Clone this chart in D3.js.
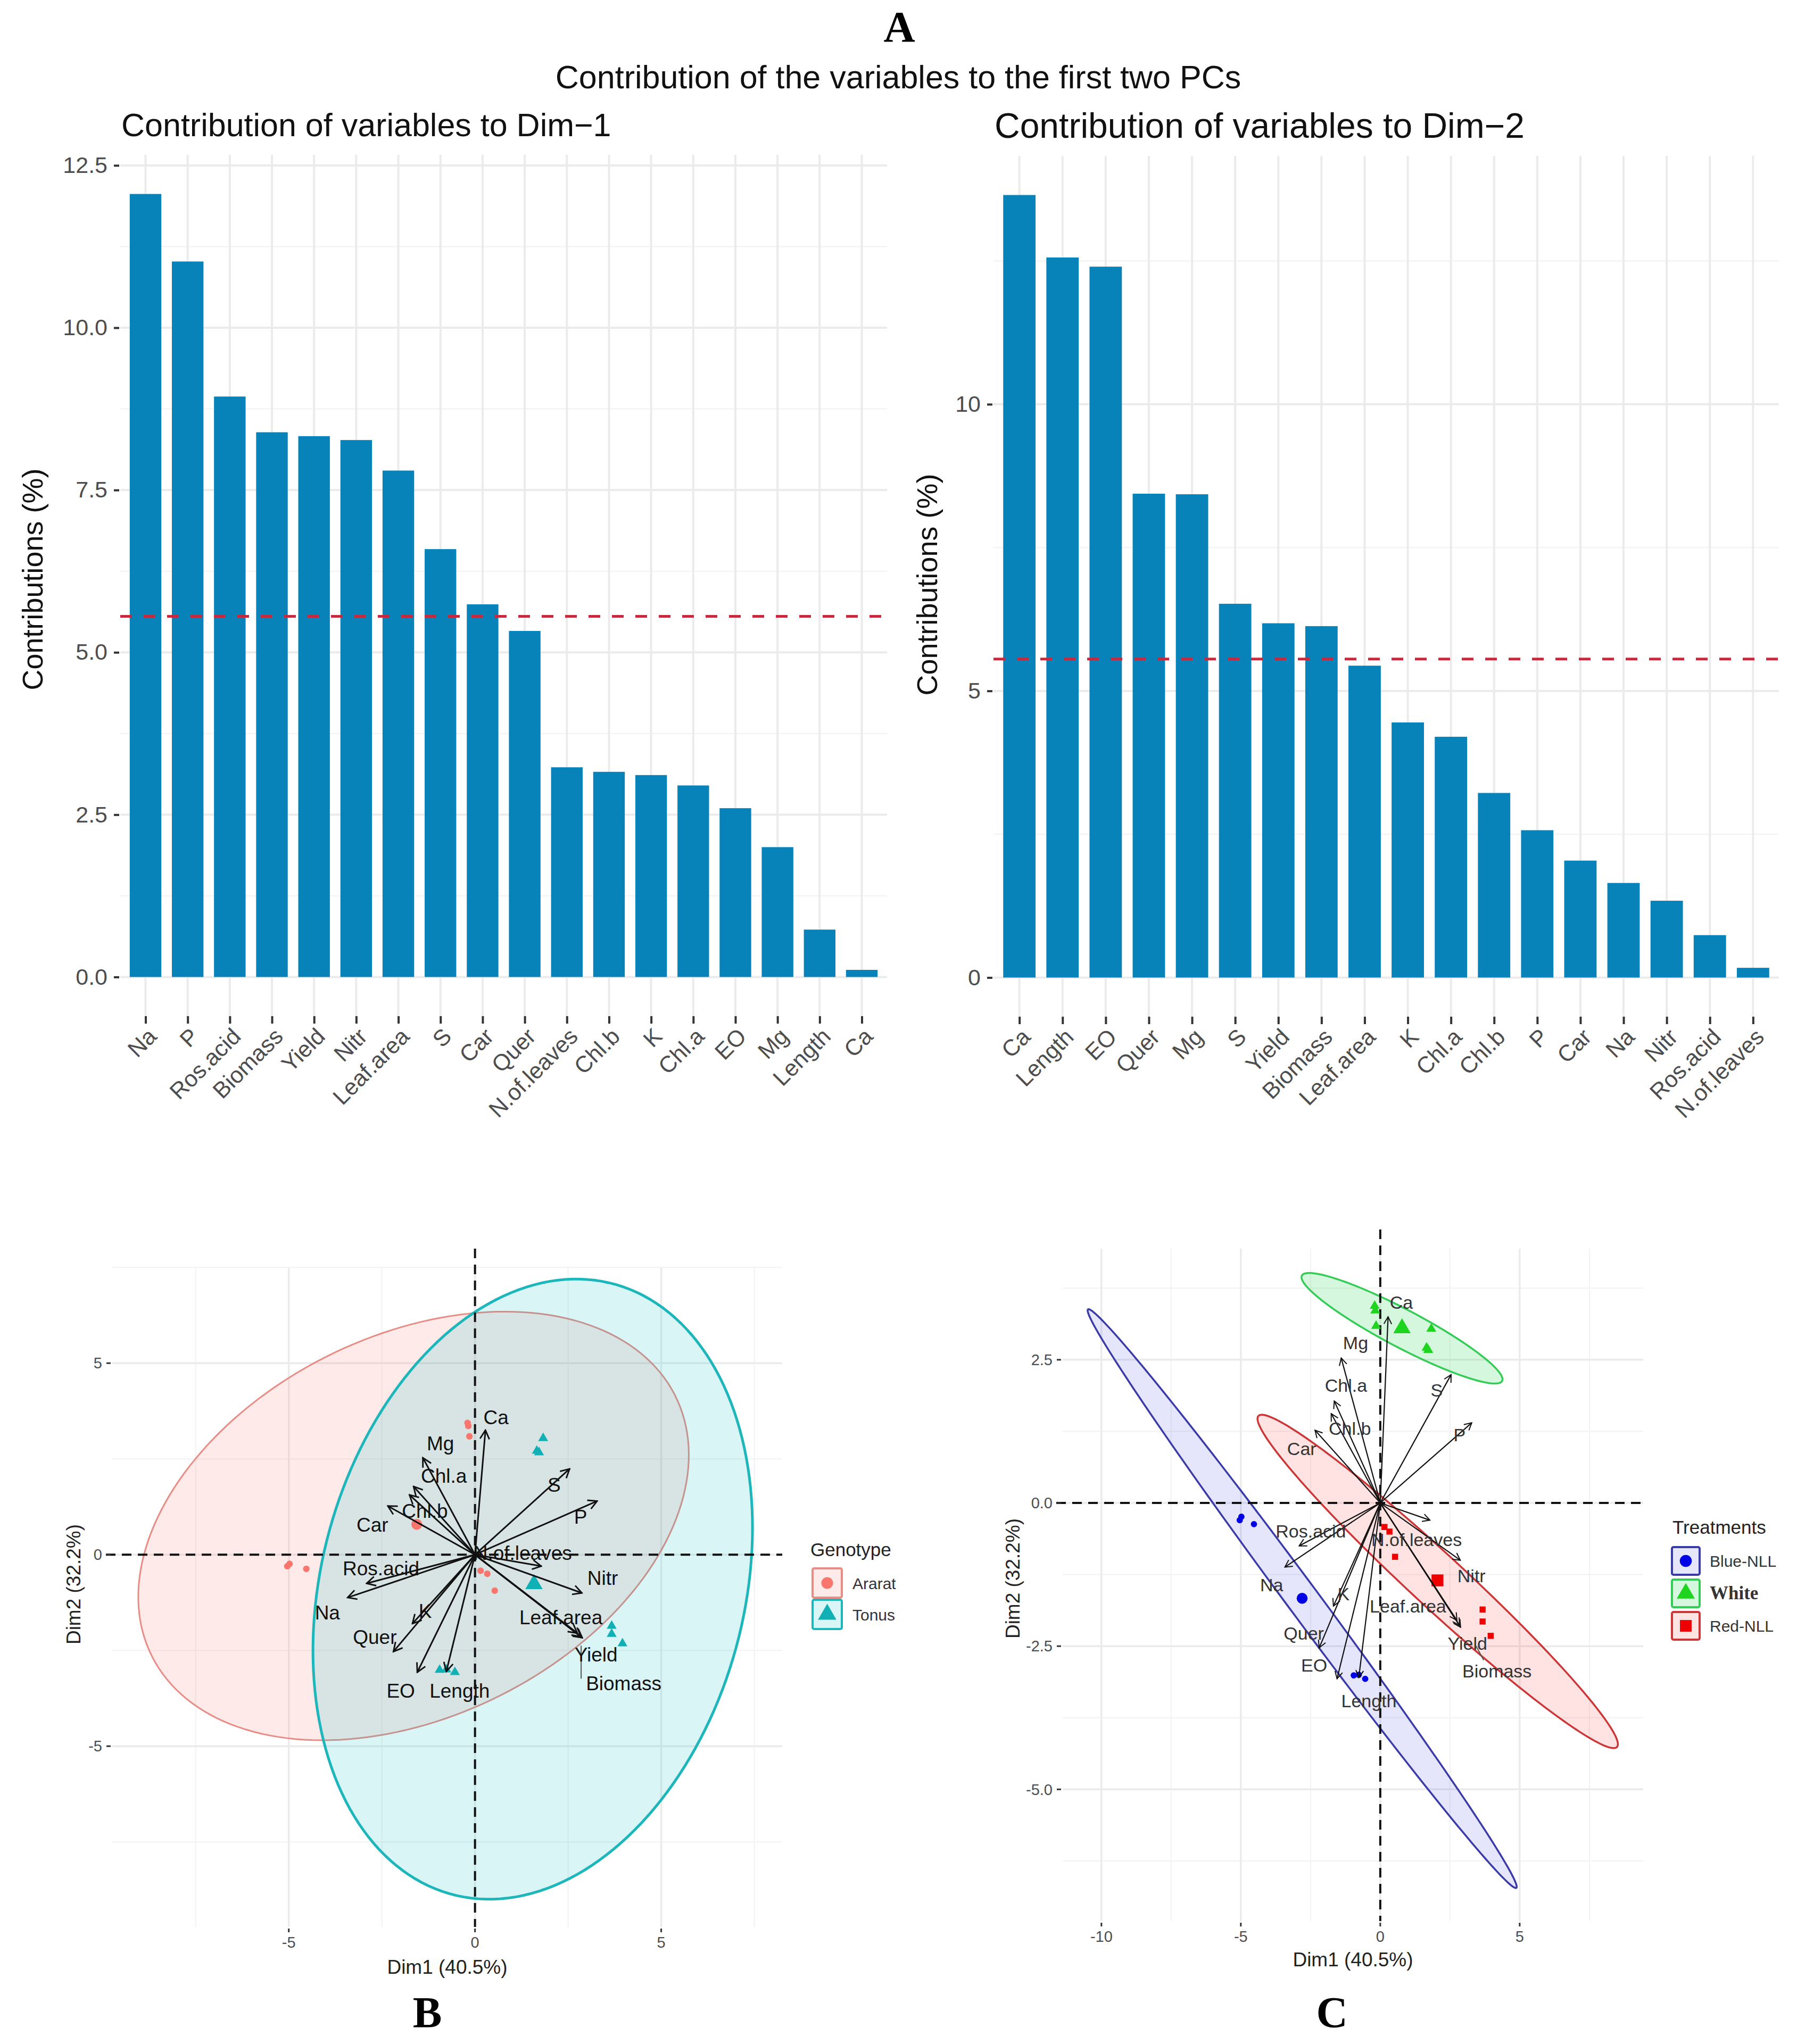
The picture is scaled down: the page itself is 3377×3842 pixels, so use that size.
<!DOCTYPE html>
<html>
<head>
<meta charset="utf-8">
<script src="https://cdn.jsdelivr.net/npm/d3@7"></script>
<style>
  body { margin: 0; background: #fff; }
</style>
</head>
<body>
<div id="chart"></div>
<script>
// ---- data ----
const dim1Names = ['Na', 'P', 'Ros.acid', 'Biomass', 'Yield', 'Nitr', 'Leaf.area', 'S', 'Car', 'Quer',
    'N.of.leaves', 'Chl.b', 'K', 'Chl.a', 'EO', 'Mg', 'Length', 'Ca'];
const dim1Values = [12.06, 11.02, 8.94, 8.39, 8.33, 8.27, 7.80, 6.59, 5.74, 5.33,
    3.23, 3.16, 3.11, 2.95, 2.60, 2.00, 0.73, 0.11];
const dim1Ticks = [0, 2.5, 5, 7.5, 10, 12.5];

const dim2Names = ['Ca', 'Length', 'EO', 'Quer', 'Mg', 'S', 'Yield', 'Biomass', 'Leaf.area', 'K',
    'Chl.a', 'Chl.b', 'P', 'Car', 'Na', 'Nitr', 'Ros.acid', 'N.of.leaves'];
const dim2Values = [13.65, 12.56, 12.40, 8.44, 8.43, 6.52, 6.18, 6.13, 5.44, 4.45,
    4.20, 3.22, 2.57, 2.04, 1.65, 1.34, 0.74, 0.17];
const dim2Ticks = [0, 5, 10];

const expectedContribution = 100 / 18;

// variable coordinates (arrows)
const varNames = ['Ca', 'Mg', 'Chl.a', 'Chl.b', 'Car', 'S', 'P', 'N.of.leaves', 'Nitr', 'Leaf.area',
    'Yield', 'Biomass', 'Length', 'EO', 'Quer', 'K', 'Na', 'Ros.acid'];
const varDim1 = [0.28, -1.40, -1.65, -1.76, -2.34, 2.54, 3.28, 1.78, 2.87, 2.75,
    2.88, 2.85, -0.77, -1.55, -2.19, -1.68, -3.42, -2.91];
const varDim2 = [3.25, 2.53, 1.78, 1.56, 1.27, 2.24, 1.40, -0.30, -1.00, -2.05,
    -2.17, -2.14, -3.05, -3.07, -2.53, -1.80, -1.12, -0.75];

// individuals
const indDim1 = [-5.04, -4.98, -4.53, -0.20, -0.18, -0.15, 0.15, 0.33, 0.53,
    1.83, 1.66, 1.72, 3.67, 3.67, 3.96, -0.95, -0.77, -0.54];
const indDim2 = [-0.30, -0.24, -0.37, 3.44, 3.36, 3.09, -0.42, -0.50, -0.94,
    3.04, 2.71, 2.67, -1.86, -2.07, -2.32, -3.01, -3.00, -3.07];
const indGenotype = ['Ararat', 'Ararat', 'Ararat', 'Ararat', 'Ararat', 'Ararat', 'Ararat', 'Ararat', 'Ararat',
    'Tonus', 'Tonus', 'Tonus', 'Tonus', 'Tonus', 'Tonus', 'Tonus', 'Tonus', 'Tonus'];
const indTreatment = ['Blue-NLL', 'Blue-NLL', 'Blue-NLL', 'White', 'White', 'White', 'Red-NLL', 'Red-NLL', 'Red-NLL',
    'White', 'White', 'White', 'Red-NLL', 'Red-NLL', 'Red-NLL', 'Blue-NLL', 'Blue-NLL', 'Blue-NLL'];

// confidence ellipses: centre and two conjugate semi-axes (data units)
const genotypeNames = ['Ararat', 'Tonus'];
const genotypeCentre = [[-1.65, 0.75], [1.55, -0.90]];
const genotypeAxisU = [[7.09, 3.27], [2.24, 7.95]];
const genotypeAxisV = [[-2.09, 4.54], [-5.46, 1.53]];

const treatmentNames = ['Blue-NLL', 'White', 'Red-NLL'];
const treatmentCentre = [[-2.80, -1.67], [0.78, 3.05], [2.06, -1.37]];
const treatmentAxisU = [[7.68, -5.05], [3.59, -0.92], [6.43, -2.89]];
const treatmentAxisV = [[0.46, 0.165], [0.317, 0.291], [0.647, 0.341]];

// ---- page ----
const W = 3377, H = 3842;
const sans = '"Liberation Sans", Arial, sans-serif';
const serif = '"Liberation Serif", "Times New Roman", serif';

const svg = d3.select('#chart').append('svg')
    .attr('width', W)
    .attr('height', H)
    .style('background', '#fff');

svg.append('text')
    .attr('x', 1690).attr('y', 78)
    .attr('text-anchor', 'middle')
    .attr('font-family', serif).attr('font-weight', 'bold').attr('font-size', 82)
    .text('A');

svg.append('text')
    .attr('x', 1688).attr('y', 166)
    .attr('text-anchor', 'middle')
    .attr('font-family', sans).attr('font-size', 61)
    .attr('fill', '#111')
    .text('Contribution of the variables to the first two PCs');

function contribChart(cfg) {
    const g = svg.append('g');

    const x = d3.scalePoint()
        .domain(cfg.names)
        .range([cfg.left, cfg.right])
        .padding(0.6);
    const maxV = d3.max(cfg.values);
    const y = d3.scaleLinear()
        .domain([-0.05 * maxV, 1.05 * maxV])
        .range([cfg.bottom, cfg.top]);
    const bw = x.step() * 0.75;

    // grid (minor halfway between majors)
    const step = cfg.ticks[1] - cfg.ticks[0];
    const minor = d3.range(cfg.ticks[0] - step / 2, y.domain()[1], step)
        .filter(d => d > y.domain()[0]);
    g.selectAll('.hminor').data(minor).join('line')
        .attr('x1', cfg.left).attr('x2', cfg.right)
        .attr('y1', d => y(d)).attr('y2', d => y(d))
        .attr('stroke', '#F2F2F2').attr('stroke-width', 2);
    g.selectAll('.hmajor').data(cfg.ticks).join('line')
        .attr('x1', cfg.left).attr('x2', cfg.right)
        .attr('y1', d => y(d)).attr('y2', d => y(d))
        .attr('stroke', '#EBEBEB').attr('stroke-width', 4);
    g.selectAll('.vmajor').data(cfg.names).join('line')
        .attr('x1', d => x(d)).attr('x2', d => x(d))
        .attr('y1', cfg.top).attr('y2', cfg.bottom)
        .attr('stroke', '#EBEBEB').attr('stroke-width', 4);

    g.selectAll('.bar').data(cfg.values).join('rect')
        .attr('x', (d, i) => x(cfg.names[i]) - bw / 2)
        .attr('width', bw)
        .attr('y', d => y(d))
        .attr('height', d => y(0) - y(d))
        .attr('fill', '#0883BA');

    g.append('line')
        .attr('x1', cfg.left).attr('x2', cfg.right)
        .attr('y1', y(expectedContribution)).attr('y2', y(expectedContribution))
        .attr('stroke', '#C8283C').attr('stroke-width', 5)
        .attr('stroke-dasharray', '22,22');

    const yAxis = g.append('g')
        .attr('transform', 'translate(' + (cfg.left - 2) + ',0)')
        .call(d3.axisLeft(y).tickValues(cfg.ticks).tickFormat(cfg.format).tickSize(10).tickPadding(12));
    yAxis.select('.domain').remove();
    yAxis.selectAll('.tick line').attr('stroke', '#333').attr('stroke-width', 4);
    yAxis.selectAll('text')
        .attr('font-family', sans).attr('font-size', 43).attr('fill', '#4D4D4D');

    const xAxis = g.append('g')
        .attr('transform', 'translate(0,' + cfg.bottom + ')')
        .call(d3.axisBottom(x).tickSize(14));
    xAxis.select('.domain').remove();
    xAxis.selectAll('.tick line').attr('stroke', '#333').attr('stroke-width', 4);
    xAxis.selectAll('text')
        .attr('x', 0).attr('y', 0).attr('dy', '0.75em')
        .attr('text-anchor', 'end')
        .attr('transform', 'translate(0,18) rotate(-45)')
        .attr('font-family', sans).attr('font-size', 43).attr('fill', '#4D4D4D');

    g.append('text')
        .attr('x', cfg.titleX).attr('y', cfg.titleY)
        .attr('font-family', sans).attr('font-size', cfg.titleSize).attr('fill', '#111')
        .text(cfg.title);

    g.append('text')
        .attr('transform', 'translate(' + cfg.yTitleX + ',' + cfg.yTitleY + ') rotate(-90)')
        .attr('dy', '0.35em')
        .attr('text-anchor', 'middle')
        .attr('font-family', sans).attr('font-size', 54).attr('fill', '#111')
        .text('Contributions (%)');
}

contribChart({
    names: dim1Names, values: dim1Values, ticks: dim1Ticks, format: d => d.toFixed(1),
    left: 226, right: 1667, top: 291, bottom: 1910,
    title: 'Contribution of variables to Dim\u22121', titleX: 228, titleY: 256, titleSize: 61,
    yTitleX: 61, yTitleY: 1089
});

contribChart({
    names: dim2Names, values: dim2Values, ticks: dim2Ticks, format: d => String(d),
    left: 1867, right: 3343, top: 293, bottom: 1911,
    title: 'Contribution of variables to Dim\u22122', titleX: 1869, titleY: 259, titleSize: 66,
    yTitleX: 1742, yTitleY: 1099
});

// ---- biplots ----
function ellipsePath(x, y, c, u, v) {
    const pts = d3.range(0, 360, 2).map(a => {
        const t = a * Math.PI / 180;
        return [x(c[0] + u[0] * Math.cos(t) + v[0] * Math.sin(t)),
                y(c[1] + u[1] * Math.cos(t) + v[1] * Math.sin(t))];
    });
    return d3.line()(pts) + 'Z';
}

function biplot(cfg) {
    const g = svg.append('g');
    const x = d3.scaleLinear().domain(cfg.xDomain).range([cfg.left, cfg.right]);
    const y = d3.scaleLinear().domain(cfg.yDomain).range([cfg.bottom, cfg.top]);

    // grid
    g.selectAll('.vminor').data(cfg.xMinor).join('line')
        .attr('x1', d => x(d)).attr('x2', d => x(d))
        .attr('y1', cfg.top).attr('y2', cfg.bottom)
        .attr('stroke', '#F2F2F2').attr('stroke-width', 2);
    g.selectAll('.hminor').data(cfg.yMinor).join('line')
        .attr('x1', cfg.left).attr('x2', cfg.right)
        .attr('y1', d => y(d)).attr('y2', d => y(d))
        .attr('stroke', '#F2F2F2').attr('stroke-width', 2);
    g.selectAll('.vmajor').data(cfg.xMajor).join('line')
        .attr('x1', d => x(d)).attr('x2', d => x(d))
        .attr('y1', cfg.top).attr('y2', cfg.bottom)
        .attr('stroke', '#EBEBEB').attr('stroke-width', 3.5);
    g.selectAll('.hmajor').data(cfg.yMajor).join('line')
        .attr('x1', cfg.left).attr('x2', cfg.right)
        .attr('y1', d => y(d)).attr('y2', d => y(d))
        .attr('stroke', '#EBEBEB').attr('stroke-width', 3.5);

    // ellipses
    g.selectAll('.ellipse').data(cfg.groups).join('path')
        .attr('d', (d, i) => ellipsePath(x, y, cfg.centre[i], cfg.axisU[i], cfg.axisV[i]))
        .attr('fill', (d, i) => cfg.fill[i])
        .attr('stroke', (d, i) => cfg.stroke[i])
        .attr('stroke-width', (d, i) => cfg.strokeWidth[i]);

    // reference lines
    g.append('line')
        .attr('x1', cfg.left - 12).attr('x2', cfg.right)
        .attr('y1', y(0)).attr('y2', y(0))
        .attr('stroke', '#111').attr('stroke-width', 4).attr('stroke-dasharray', '18,12');
    g.append('line')
        .attr('x1', x(0)).attr('x2', x(0))
        .attr('y1', cfg.top - 36).attr('y2', cfg.bottom)
        .attr('stroke', '#111').attr('stroke-width', 4).attr('stroke-dasharray', '18,12');

    // individuals
    const rows = indDim1.map((d, i) => ({x: d, y: indDim2[i], group: cfg.groupOf[i]}));
    const gi = d => cfg.groups.indexOf(d.group);
    g.selectAll('.ind').data(rows).join('path')
        .attr('transform', d => 'translate(' + x(d.x) + ',' + y(d.y) + ')')
        .attr('d', d => d3.symbol().type(cfg.shape[gi(d)]).size(cfg.pointSize[gi(d)])())
        .attr('fill', d => cfg.point[gi(d)]);

    const means = cfg.groups.map(grp => {
        const r = rows.filter(d => d.group === grp);
        return {group: grp, x: d3.mean(r, d => d.x), y: d3.mean(r, d => d.y)};
    });
    g.selectAll('.mean').data(means).join('path')
        .attr('transform', d => 'translate(' + x(d.x) + ',' + y(d.y) + ')')
        .attr('d', d => d3.symbol().type(cfg.shape[gi(d)]).size(cfg.meanSize[gi(d)])())
        .attr('fill', d => cfg.point[gi(d)]);

    // arrows
    const markerId = 'arrow-' + cfg.id;
    svg.append('defs').append('marker')
        .attr('id', markerId)
        .attr('viewBox', '0 0 20 20')
        .attr('refX', 18).attr('refY', 10)
        .attr('markerUnits', 'userSpaceOnUse')
        .attr('markerWidth', cfg.headSize).attr('markerHeight', cfg.headSize)
        .attr('orient', 'auto')
        .append('path')
        .attr('d', 'M3,2 L18,10 L3,18')
        .attr('fill', 'none')
        .attr('stroke', '#111')
        .attr('stroke-width', cfg.headStroke);

    const vars = varNames.map((n, i) => ({name: n, x: varDim1[i], y: varDim2[i]}));
    g.selectAll('.arrow').data(vars).join('line')
        .attr('x1', x(0)).attr('y1', y(0))
        .attr('x2', d => x(d.x)).attr('y2', d => y(d.y))
        .attr('stroke', '#111').attr('stroke-width', cfg.arrowWidth)
        .attr('marker-end', 'url(#' + markerId + ')');

    // repelled labels
    g.selectAll('.seg').data(vars.filter(d => cfg.segments[d.name])).join('line')
        .attr('x1', d => x(d.x) + cfg.segments[d.name][0])
        .attr('y1', d => y(d.y) + cfg.segments[d.name][1])
        .attr('x2', d => x(d.x) + cfg.segments[d.name][2])
        .attr('y2', d => y(d.y) + cfg.segments[d.name][3])
        .attr('stroke', '#555').attr('stroke-width', 2);
    g.selectAll('.vlabel').data(vars).join('text')
        .attr('x', d => x(d.x) + cfg.nudge[d.name][0])
        .attr('y', d => y(d.y) + cfg.nudge[d.name][1])
        .attr('dy', '0.35em')
        .attr('text-anchor', 'middle')
        .attr('font-family', sans).attr('font-size', cfg.labelSize)
        .attr('fill', cfg.labelColor)
        .text(d => d.name);

    // axes
    const fmt = cfg.tickFormat;
    g.selectAll('.ytick').data(cfg.yMajor).join('line')
        .attr('x1', cfg.left - 11).attr('x2', cfg.left - 3)
        .attr('y1', d => y(d)).attr('y2', d => y(d))
        .attr('stroke', '#333').attr('stroke-width', 3);
    g.selectAll('.ylab').data(cfg.yMajor).join('text')
        .attr('x', cfg.left - 19).attr('y', d => y(d))
        .attr('dy', '0.35em')
        .attr('text-anchor', 'end')
        .attr('font-family', sans).attr('font-size', 29).attr('fill', '#4D4D4D')
        .text(fmt);
    g.selectAll('.xtick').data(cfg.xMajor).join('line')
        .attr('x1', d => x(d)).attr('x2', d => x(d))
        .attr('y1', cfg.bottom + 3).attr('y2', cfg.bottom + 10)
        .attr('stroke', '#333').attr('stroke-width', 3);
    g.selectAll('.xlab').data(cfg.xMajor).join('text')
        .attr('x', d => x(d)).attr('y', cfg.bottom + 39)
        .attr('text-anchor', 'middle')
        .attr('font-family', sans).attr('font-size', 29).attr('fill', '#4D4D4D')
        .text(d => String(d));

    g.append('text')
        .attr('x', (cfg.left + cfg.right) / 2).attr('y', cfg.xTitleY)
        .attr('text-anchor', 'middle')
        .attr('font-family', sans).attr('font-size', 37).attr('fill', '#222')
        .text('Dim1 (40.5%)');
    g.append('text')
        .attr('transform', 'translate(' + cfg.yTitleX + ',' + cfg.yTitleY + ') rotate(-90)')
        .attr('dy', '0.35em')
        .attr('text-anchor', 'middle')
        .attr('font-family', sans).attr('font-size', 37).attr('fill', '#222')
        .text('Dim2 (32.2%)');

    // legend
    const lg = cfg.legend;
    g.append('text')
        .attr('x', lg.x).attr('y', lg.titleY)
        .attr('font-family', sans).attr('font-size', 35).attr('fill', '#222')
        .text(lg.title);
    const keys = g.selectAll('.key').data(cfg.groups).join('g')
        .attr('transform', (d, i) => 'translate(' + lg.keyX + ',' + (lg.keyY + i * lg.keyStep) + ')');
    keys.append('rect')
        .attr('width', lg.keySize).attr('height', lg.keySize)
        .attr('rx', 3)
        .attr('fill', (d, i) => cfg.fill[i])
        .attr('stroke', (d, i) => cfg.stroke[i])
        .attr('stroke-width', 4);
    keys.append('path')
        .attr('transform', 'translate(' + lg.keySize / 2 + ',' + lg.keySize / 2 + ')')
        .attr('d', (d, i) => d3.symbol().type(cfg.shape[i]).size(lg.symbolSize[i])())
        .attr('fill', (d, i) => cfg.point[i]);
    keys.append('text')
        .attr('x', lg.labelDx).attr('y', lg.keySize / 2 + 11)
        .attr('font-family', (d, i) => lg.labelFont[i])
        .attr('font-weight', (d, i) => lg.labelWeight[i])
        .attr('font-size', (d, i) => lg.labelSize[i])
        .attr('fill', '#333')
        .text(d => d);
}

biplot({
    id: 'b',
    left: 211, right: 1470, top: 2383, bottom: 3622,
    xDomain: [-9.74, 8.25], yDomain: [-9.72, 7.49],
    xMajor: [-5, 0, 5], xMinor: [-7.5, -2.5, 2.5, 7.5],
    yMajor: [-5, 0, 5], yMinor: [-7.5, -2.5, 2.5, 7.5],
    tickFormat: d => String(d),
    groups: genotypeNames, groupOf: indGenotype,
    centre: genotypeCentre, axisU: genotypeAxisU, axisV: genotypeAxisV,
    fill: ['rgba(248,118,109,0.15)', 'rgba(0,191,196,0.15)'],
    stroke: ['#E88C86', '#1DB6BB'],
    strokeWidth: [3, 5],
    point: ['#F8766D', '#10B0B5'],
    shape: [d3.symbolCircle, d3.symbolTriangle],
    pointSize: [120, 150], meanSize: [330, 460],
    arrowWidth: 3, headSize: 22, headStroke: 2.6,
    labelSize: 37, labelColor: '#111',
    nudge: {
        'Ca': [20, -24], 'Mg': [33, -27], 'Chl.a': [57, -20], 'Chl.b': [29, 30], 'Car': [-29, 35],
        'S': [-29, 30], 'P': [-31, 30], 'N.of.leaves': [-35, -25], 'Nitr': [39, -28],
        'Leaf.area': [-31, -30], 'Yield': [26, 32], 'Biomass': [80, 88], 'Length': [25, 36],
        'EO': [-31, 35], 'Quer': [-35, -27], 'K': [24, -24], 'Na': [-38, 28], 'Ros.acid': [27, -28]
    },
    segments: {'Biomass': [0, 17, 0, 79]},
    xTitleY: 3710, yTitleX: 138, yTitleY: 2978,
    legend: {
        title: 'Genotype', x: 1523, titleY: 2925,
        keyX: 1527, keyY: 2948, keyStep: 59, keySize: 55, labelDx: 75,
        symbolSize: [380, 520],
        labelFont: [sans, sans], labelWeight: ['normal', 'normal'], labelSize: [30, 30]
    }
});

biplot({
    id: 'c',
    left: 1997, right: 3088, top: 2347, bottom: 3611,
    xDomain: [-11.39, 9.43], yDomain: [-7.3, 4.44],
    xMajor: [-10, -5, 0, 5], xMinor: [-7.5, -2.5, 2.5, 7.5],
    yMajor: [-5, -2.5, 0, 2.5], yMinor: [-6.25, -3.75, -1.25, 1.25, 3.75],
    tickFormat: d => d.toFixed(1),
    groups: treatmentNames, groupOf: indTreatment,
    centre: treatmentCentre, axisU: treatmentAxisU, axisV: treatmentAxisV,
    fill: ['rgba(20,20,230,0.11)', 'rgba(0,210,60,0.17)', 'rgba(255,40,40,0.13)'],
    stroke: ['#3A3AA8', '#33CC55', '#CC3636'],
    strokeWidth: [3.5, 3.5, 3.5],
    point: ['#0000E6', '#1ED41E', '#EE0000'],
    shape: [d3.symbolCircle, d3.symbolTriangle, d3.symbolSquare],
    pointSize: [110, 150, 130], meanSize: [330, 460, 500],
    arrowWidth: 2.2, headSize: 18, headStroke: 2.2,
    labelSize: 34, labelColor: '#333',
    nudge: {
        'Ca': [25, -27], 'Mg': [27, -29], 'Chl.a': [22, -29], 'Chl.b': [35, 28], 'Car': [-25, 35],
        'S': [-27, 29], 'P': [-23, 23], 'N.of.leaves': [-25, 37], 'Nitr': [21, 29],
        'Leaf.area': [-92, -27], 'Yield': [13, 30], 'Biomass': [70, 86], 'Length': [19, 44],
        'EO': [-43, -25], 'Quer': [-29, -27], 'K': [19, -23], 'Na': [-25, 33], 'Ros.acid': [22, -28]
    },
    segments: {'Biomass': [31, 39, 45, 65]},
    xTitleY: 3696, yTitleX: 1903, yTitleY: 2967,
    legend: {
        title: 'Treatments', x: 3143, titleY: 2883,
        keyX: 3142, keyY: 2908, keyStep: 61, keySize: 52, labelDx: 71,
        symbolSize: [400, 500, 480],
        labelFont: [sans, serif, sans], labelWeight: ['normal', 'bold', 'normal'], labelSize: [30, 35, 30]
    }
});

svg.append('text')
    .attr('x', 803).attr('y', 3810)
    .attr('text-anchor', 'middle')
    .attr('font-family', serif).attr('font-weight', 'bold').attr('font-size', 82)
    .text('B');
svg.append('text')
    .attr('x', 2503).attr('y', 3810)
    .attr('text-anchor', 'middle')
    .attr('font-family', serif).attr('font-weight', 'bold').attr('font-size', 82)
    .text('C');
</script>
</body>
</html>
